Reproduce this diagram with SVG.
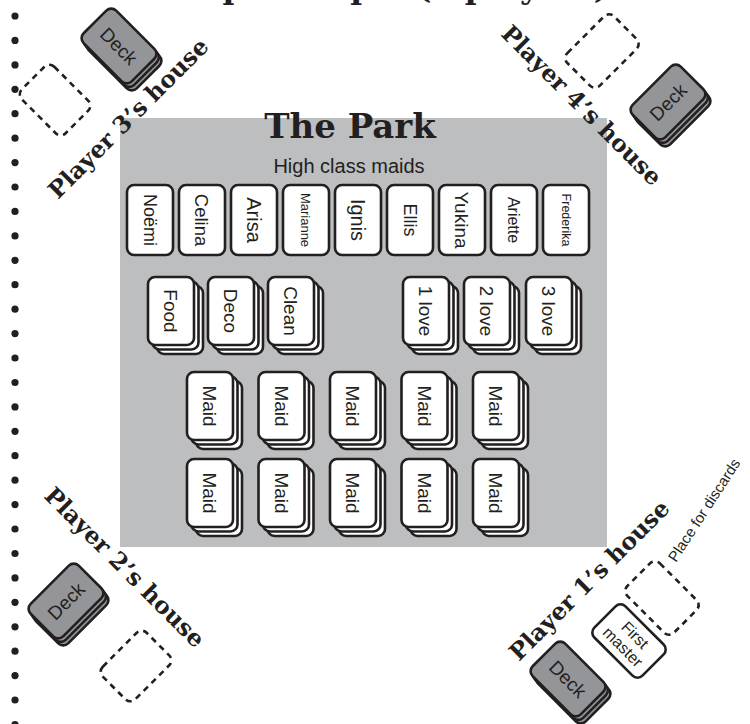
<svg xmlns="http://www.w3.org/2000/svg" width="750" height="724" viewBox="0 0 750 724">
<style>
.card{fill:#fff;stroke:#231f20;stroke-width:2.6}
.deck{fill:#939598;stroke:#231f20;stroke-width:2.6}
.dash{fill:none;stroke:#231f20;stroke-width:2.6;stroke-dasharray:6 5}
.lbl{font-family:"Liberation Sans",Arial,sans-serif;fill:#231f20;text-anchor:middle}
.serif{font-family:"DejaVu Serif","Liberation Serif",serif;font-weight:bold;fill:#231f20;text-anchor:middle}
.dot{fill:#231f20}
</style>
<defs>
<rect id="pc" x="-23" y="-34" width="46" height="68" rx="7"/>
<rect id="dc" x="-34" y="-23" width="68" height="46" rx="7"/>
<g id="stack">
<use href="#pc" x="9" y="9"/>
<use href="#pc" x="4.5" y="4.5"/>
<use href="#pc"/>
</g>
</defs>

<g id="title"><text class="serif" x="375" y="-2" font-size="32">Setup example (4 players)</text></g>

<g id="border">
<circle class="dot" cx="15" cy="16" r="3.6"/><circle class="dot" cx="15" cy="40.4" r="3.6"/><circle class="dot" cx="15" cy="64.9" r="3.6"/><circle class="dot" cx="15" cy="89.3" r="3.6"/><circle class="dot" cx="15" cy="113.7" r="3.6"/><circle class="dot" cx="15" cy="138.2" r="3.6"/><circle class="dot" cx="15" cy="162.6" r="3.6"/><circle class="dot" cx="15" cy="187" r="3.6"/><circle class="dot" cx="15" cy="211.4" r="3.6"/><circle class="dot" cx="15" cy="235.9" r="3.6"/><circle class="dot" cx="15" cy="260.3" r="3.6"/><circle class="dot" cx="15" cy="284.7" r="3.6"/><circle class="dot" cx="15" cy="309.2" r="3.6"/><circle class="dot" cx="15" cy="333.6" r="3.6"/><circle class="dot" cx="15" cy="358" r="3.6"/><circle class="dot" cx="15" cy="382.5" r="3.6"/><circle class="dot" cx="15" cy="406.9" r="3.6"/><circle class="dot" cx="15" cy="431.3" r="3.6"/><circle class="dot" cx="15" cy="455.7" r="3.6"/><circle class="dot" cx="15" cy="480.2" r="3.6"/><circle class="dot" cx="15" cy="504.6" r="3.6"/><circle class="dot" cx="15" cy="529" r="3.6"/><circle class="dot" cx="15" cy="553.5" r="3.6"/><circle class="dot" cx="15" cy="577.9" r="3.6"/><circle class="dot" cx="15" cy="602.3" r="3.6"/><circle class="dot" cx="15" cy="626.8" r="3.6"/><circle class="dot" cx="15" cy="651.2" r="3.6"/><circle class="dot" cx="15" cy="675.6" r="3.6"/><circle class="dot" cx="15" cy="700" r="3.6"/><circle class="dot" cx="15" cy="724.5" r="3.6"/>
</g>

<g id="park">
<rect x="120" y="118" width="487" height="429" fill="#bcbec0"/>
<text class="serif" x="350" y="138" font-size="34">The Park</text>
<text class="lbl" x="349" y="173" font-size="20">High class maids</text>
</g>

<g id="high-class">
<g id="noemi"><rect class="card" x="127" y="185" width="46" height="70" rx="7"/><text class="lbl" transform="translate(150,220) rotate(90)" y="0.36em" font-size="18">Noëmi</text></g>
<g id="celina"><rect class="card" x="179" y="185" width="46" height="70" rx="7"/><text class="lbl" transform="translate(202,220) rotate(90)" y="0.36em" font-size="18.5">Celina</text></g>
<g id="arisa"><rect class="card" x="231" y="185" width="46" height="70" rx="7"/><text class="lbl" transform="translate(254,220) rotate(90)" y="0.36em" font-size="20">Arisa</text></g>
<g id="marianne"><rect class="card" x="283" y="185" width="46" height="70" rx="7"/><text class="lbl" transform="translate(306,220) rotate(90)" y="0.36em" font-size="13">Marianne</text></g>
<g id="ignis"><rect class="card" x="335" y="185" width="46" height="70" rx="7"/><text class="lbl" transform="translate(358,220) rotate(90)" y="0.36em" font-size="20">Ignis</text></g>
<g id="ellis"><rect class="card" x="387" y="185" width="46" height="70" rx="7"/><text class="lbl" transform="translate(410,220) rotate(90)" y="0.36em" font-size="18">Ellis</text></g>
<g id="yukina"><rect class="card" x="439" y="185" width="46" height="70" rx="7"/><text class="lbl" transform="translate(462,220) rotate(90)" y="0.36em" font-size="19">Yukina</text></g>
<g id="ariette"><rect class="card" x="491" y="185" width="46" height="70" rx="7"/><text class="lbl" transform="translate(514,220) rotate(90)" y="0.36em" font-size="16">Ariette</text></g>
<g id="frederika"><rect class="card" x="543" y="185" width="46" height="70" rx="7"/><text class="lbl" transform="translate(566,220) rotate(90)" y="0.36em" font-size="12.5">Frederika</text></g>
</g>

<g id="piles" font-size="19">
<g id="food"><use class="card" href="#stack" x="171" y="311"/><text class="lbl" transform="translate(171,311) rotate(90)" y="0.36em">Food</text></g>
<g id="deco"><use class="card" href="#stack" x="231" y="311"/><text class="lbl" transform="translate(231,311) rotate(90)" y="0.36em">Deco</text></g>
<g id="clean"><use class="card" href="#stack" x="291" y="311"/><text class="lbl" transform="translate(291,311) rotate(90)" y="0.36em">Clean</text></g>
<g id="love1"><use class="card" href="#stack" x="426" y="311"/><text class="lbl" transform="translate(426,311) rotate(90)" y="0.36em">1 love</text></g>
<g id="love2"><use class="card" href="#stack" x="487" y="311"/><text class="lbl" transform="translate(487,311) rotate(90)" y="0.36em">2 love</text></g>
<g id="love3"><use class="card" href="#stack" x="549" y="311"/><text class="lbl" transform="translate(549,311) rotate(90)" y="0.36em">3 love</text></g>
<g id="maid1"><use class="card" href="#stack" x="210" y="406"/><text class="lbl" transform="translate(210,406) rotate(90)" y="0.36em">Maid</text></g>
<g id="maid2"><use class="card" href="#stack" x="281.5" y="406"/><text class="lbl" transform="translate(281.5,406) rotate(90)" y="0.36em">Maid</text></g>
<g id="maid3"><use class="card" href="#stack" x="353" y="406"/><text class="lbl" transform="translate(353,406) rotate(90)" y="0.36em">Maid</text></g>
<g id="maid4"><use class="card" href="#stack" x="424.5" y="406"/><text class="lbl" transform="translate(424.5,406) rotate(90)" y="0.36em">Maid</text></g>
<g id="maid5"><use class="card" href="#stack" x="496" y="406"/><text class="lbl" transform="translate(496,406) rotate(90)" y="0.36em">Maid</text></g>
<g id="maid6"><use class="card" href="#stack" x="210" y="493"/><text class="lbl" transform="translate(210,493) rotate(90)" y="0.36em">Maid</text></g>
<g id="maid7"><use class="card" href="#stack" x="281.5" y="493"/><text class="lbl" transform="translate(281.5,493) rotate(90)" y="0.36em">Maid</text></g>
<g id="maid8"><use class="card" href="#stack" x="353" y="493"/><text class="lbl" transform="translate(353,493) rotate(90)" y="0.36em">Maid</text></g>
<g id="maid9"><use class="card" href="#stack" x="424.5" y="493"/><text class="lbl" transform="translate(424.5,493) rotate(90)" y="0.36em">Maid</text></g>
<g id="maid10"><use class="card" href="#stack" x="496" y="493"/><text class="lbl" transform="translate(496,493) rotate(90)" y="0.36em">Maid</text></g>
</g>

<g id="player3">
<rect class="dash" x="-31" y="-23" width="62" height="46" rx="7" transform="translate(55,100) rotate(45)"/>
<use class="deck" href="#dc" transform="translate(124,53) rotate(45)"/>
<use class="deck" href="#dc" transform="translate(121.5,49.5) rotate(45)"/>
<use class="deck" href="#dc" transform="translate(119,46) rotate(45)"/>
<text class="lbl" transform="translate(119,46) rotate(45)" y="0.36em" font-size="19">Deck</text>
<text class="serif" transform="translate(134,124) rotate(-45)" font-size="23.5">Player 3’s house</text>
</g>

<g id="player4">
<rect class="dash" x="-33" y="-23" width="66" height="46" rx="7" transform="translate(602,51) rotate(-45)"/>
<use class="deck" href="#dc" transform="translate(673,109) rotate(-45)"/>
<use class="deck" href="#dc" transform="translate(670.5,105.5) rotate(-45)"/>
<use class="deck" href="#dc" transform="translate(668,102) rotate(-45)"/>
<text class="lbl" transform="translate(668,102) rotate(-45)" y="0.36em" font-size="19">Deck</text>
<text class="serif" transform="translate(576,111) rotate(45)" font-size="23.5">Player 4’s house</text>
</g>

<g id="player2">
<rect class="dash" x="-31" y="-23" width="62" height="46" rx="7" transform="translate(136,666) rotate(-45)"/>
<use class="deck" href="#dc" transform="translate(71,608) rotate(-45)"/>
<use class="deck" href="#dc" transform="translate(68.5,604.5) rotate(-45)"/>
<use class="deck" href="#dc" transform="translate(66,601) rotate(-45)"/>
<text class="lbl" transform="translate(66,601) rotate(-45)" y="0.36em" font-size="19">Deck</text>
<text class="serif" transform="translate(119,573) rotate(45)" font-size="23.5">Player 2’s house</text>
</g>

<g id="player1">
<rect class="dash" x="-33" y="-23" width="66" height="46" rx="7" transform="translate(662,598) rotate(45)"/>
<g transform="translate(629,641) rotate(45)">
<rect class="card" x="-34" y="-22" width="68" height="44" rx="7"/>
<text class="lbl" y="-3" font-size="16">First</text>
<text class="lbl" y="14" font-size="16">master</text>
</g>
<use class="deck" href="#dc" transform="translate(573,686) rotate(45)"/>
<use class="deck" href="#dc" transform="translate(570.5,682.5) rotate(45)"/>
<use class="deck" href="#dc" transform="translate(568,679) rotate(45)"/>
<text class="lbl" transform="translate(568,679) rotate(45)" y="0.36em" font-size="19">Deck</text>
<text class="serif" transform="translate(595,586) rotate(-45)" font-size="23.5">Player 1’s house</text>
<text class="lbl" transform="translate(676,563) rotate(-57)" font-size="15" style="text-anchor:start">Place for discards</text>
</g>
</svg>
